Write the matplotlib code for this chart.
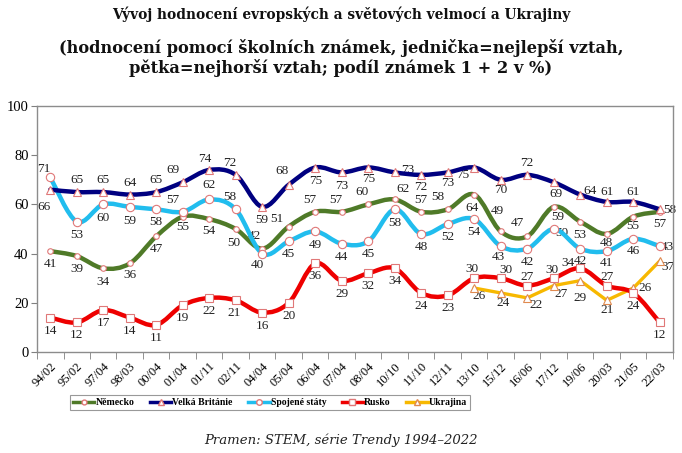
import numpy as np
import matplotlib
matplotlib.use("Agg")
import matplotlib.pyplot as plt
from matplotlib.path import Path
from matplotlib.patches import PathPatch
from matplotlib.lines import Line2D

# ---------------- data ----------------
periods = ["94/02", "95/02", "97/04", "98/03", "00/04", "01/04", "01/11", "02/11",
           "04/04", "05/04", "06/04", "07/04", "08/04", "10/10", "11/10", "12/11",
           "13/10", "15/12", "16/06", "17/12", "19/06", "20/03", "21/05", "22/03"]

nemecko = [41, 39, 34, 36, 47, 55, 54, 50, 42, 51, 57, 57, 60, 62, 57, 58,
           64, 49, 47, 59, 53, 48, 55, 57]
velka_britanie = [66, 65, 65, 64, 65, 69, 74, 72, 59, 68, 75, 73, 75, 73, 72, 73,
                  75, 70, 72, 69, 64, 61, 61, 58]
spojene_staty = [71, 53, 60, 59, 58, 57, 62, 58, 40, 45, 49, 44, 45, 58, 48, 52,
                 54, 43, 42, 50, 42, 41, 46, 43]
rusko = [14, 12, 17, 14, 11, 19, 22, 21, 16, 20, 36, 29, 32, 34, 24, 23,
         30, 30, 27, 30, 34, 27, 24, 12]
ukrajina_start = 16
ukrajina = [26, 24, 22, 27, 29, 21, 26, 37]

series_names = ["Německo", "Velká Británie", "Spojené státy", "Rusko", "Ukrajina"]

title1 = "Vývoj hodnocení evropských a světových velmocí a Ukrajiny"
title2 = "(hodnocení pomocí školních známek, jednička=nejlepší vztah,\npětka=nejhorší vztah; podíl známek 1 + 2 v %)"
source = "Pramen: STEM, série Trendy 1994–2022"

# ---------------- label placement (pixel offsets: dx, dy downwards) ----------------
off_vb = [(-6, 17), (0, -12), (0, -12), (0, -12), (0, -12), (-10, -12), (-4, -11), (-6, -12),
          (0, 13), (-7, -14), (0, 13), (0, 14), (0, 12), (13, -2), (0, 12), (0, 11),
          (-12, 8), (0, 10), (0, -12), (2, 12), (10, -4), (0, -10), (0, -10), (10, 1)]
off_de = [(0, 13), (0, 13), (0, 14), (0, 12), (0, 13), (0, 10), (0, 12), (-2, 14),
          (-8, -13), (-12, -8), (-5, -12), (-6, -12), (-6, -12), (8, -10), (0, -12), (-10, -12),
          (-2, 13), (-3, -20), (-10, -13), (4, 10), (0, 13), (0, 9), (0, 9), (0, 12)]
off_us = [(-6, -8), (0, 13), (0, 14), (0, 14), (0, 13), (-10, -12), (0, -14), (-6, -12),
          (-5, 11), (0, 13), (0, 14), (0, 13), (0, 13), (0, 14), (0, 13), (0, 13),
          (0, 13), (-2, 11), (0, 13), (8, 4), (0, 12), (0, 12), (0, 12), (8, 1)]
off_ru = [(0, 13)] * 7 + [(-2, 13)] + [(0, 13)] * 8 + \
         [(-2, -9), (5, -8), (0, -9), (-2, -8), (-12, -5), (0, -9), (0, 13), (0, 13)]
off_ua = [(5, 8), (2, 10), (9, 7), (7, 8), (0, 17), (0, 10), (12, 0), (8, 6)]

# ---------------- style ----------------
c_de = "#4f7a28"
c_vb = "#000080"
c_us = "#21bdee"
c_ru = "#ee0000"
c_ua = "#f7b800"
mk_edge = "#e07878"

serif = ["Liberation Serif", "DejaVu Serif"]
plt.rcParams["font.family"] = serif

fig = plt.figure(figsize=(6.82, 4.53), dpi=100)
ax = fig.add_axes([37 / 682, 1 - 352 / 453, (673 - 37) / 682, (352 - 106) / 453])

x = np.arange(len(periods))


def smooth_patch(xs, ys, color, lw, z):
    pts = np.column_stack([xs, ys]).astype(float)
    n = len(pts)
    verts = [tuple(pts[0])]
    codes = [Path.MOVETO]
    for i in range(n - 1):
        p0 = pts[max(i - 1, 0)]
        p1 = pts[i]
        p2 = pts[i + 1]
        p3 = pts[min(i + 2, n - 1)]
        c1 = p1 + (p2 - p0) / 6.0
        c2 = p2 - (p3 - p1) / 6.0
        verts += [tuple(c1), tuple(c2), tuple(p2)]
        codes += [Path.CURVE4] * 3
    patch = PathPatch(Path(verts, codes), facecolor="none", edgecolor=color,
                      lw=lw, zorder=z, capstyle="round", joinstyle="round")
    ax.add_patch(patch)


def labels(xs, ys, offs, z):
    for xi, yi, (dx, dy) in zip(xs, ys, offs):
        ax.annotate(str(yi), (xi, yi), xytext=(dx, -dy), textcoords="offset pixels",
                    ha="center", va="center", fontsize=9.5, color="#222222", zorder=z)


# Německo
smooth_patch(x, nemecko, c_de, 3.2, 3)
ax.plot(x, nemecko, ls="none", marker="o", ms=4, mfc="white", mec=mk_edge, mew=0.8, zorder=4)
labels(x, nemecko, off_de, 2)

# Spojené státy
smooth_patch(x, spojene_staty, c_us, 3.2, 3)
ax.plot(x, spojene_staty, ls="none", marker="o", ms=6, mfc="white", mec=mk_edge, mew=0.8, zorder=4)
labels(x, spojene_staty, off_us, 2)

# Velká Británie
smooth_patch(x, velka_britanie, c_vb, 3.2, 3)
ax.plot(x, velka_britanie, ls="none", marker="^", ms=5.5, mfc="white", mec=mk_edge, mew=0.8, zorder=4)
labels(x, velka_britanie, off_vb, 2)

# Ukrajina (straight segments)
xu = x[ukrajina_start:ukrajina_start + len(ukrajina)]
ax.plot(xu, ukrajina, color=c_ua, lw=2.4, zorder=3, solid_joinstyle="round")
ax.plot(xu, ukrajina, ls="none", marker="^", ms=5.5, mfc="white", mec="#e08a50", mew=0.8, zorder=4)
labels(xu, ukrajina, off_ua, 2)

# Rusko
smooth_patch(x, rusko, c_ru, 3.2, 3.5)
ax.plot(x, rusko, ls="none", marker="s", ms=5.5, mfc="white", mec=mk_edge, mew=0.8, zorder=4.5)
labels(x, rusko, off_ru, 2)

# ---------------- axes ----------------
ax.set_xlim(-0.5, len(periods) - 0.5)
ax.set_ylim(0, 100)
ax.set_yticks(range(0, 101, 20))
ax.tick_params(axis="y", labelsize=10.5, length=4, color="#808080", pad=2)
ax.set_xticks(x)
ax.set_xticklabels(periods, rotation=45, ha="right", rotation_mode="anchor", fontsize=9)
ax.tick_params(axis="x", which="major", length=0, pad=6)
ax.set_xticks(np.arange(-0.5, len(periods), 1.0), minor=True)
ax.tick_params(axis="x", which="minor", length=5, color="#808080")
for s in ax.spines.values():
    s.set_color("#8c8c8c")
    s.set_linewidth(1.0)

# ---------------- legend ----------------
handles = [
    Line2D([], [], color=c_de, lw=2.5, marker="o", ms=3.5, mfc="white", mec=mk_edge),
    Line2D([], [], color=c_vb, lw=2.5, marker="^", ms=4, mfc="white", mec=mk_edge),
    Line2D([], [], color=c_us, lw=2.5, marker="o", ms=4, mfc="white", mec=mk_edge),
    Line2D([], [], color=c_ru, lw=2.5, marker="s", ms=4, mfc="white", mec=mk_edge),
    Line2D([], [], color=c_ua, lw=2.5, marker="^", ms=4, mfc="white", mec="#e08a50"),
]
leg = fig.legend(handles, series_names, loc="center", bbox_to_anchor=(270 / 682, 1 - 402.5 / 453),
                 ncol=5, frameon=True, fancybox=False, handlelength=2.2,
                 handletextpad=0.1, columnspacing=1.6, borderpad=0.35,
                 prop={"family": serif, "weight": "bold", "size": 7})
leg.get_frame().set_edgecolor("#808080")
leg.get_frame().set_linewidth(0.8)

# ---------------- titles ----------------
tfam = ["DejaVu Serif"]
fig.text(0.5, 1 - 14 / 453, title1, ha="center", va="center", fontsize=9.9,
         fontweight="bold", family=tfam, color="#111111")
fig.text(0.5, 1 - 58 / 453, title2, ha="center", va="center", fontsize=11.7,
         fontweight="bold", family=tfam, color="#111111", linespacing=1.1)
fig.text(0.5, 1 - 440 / 453, source, ha="center", va="center", fontsize=9.5,
         style="italic", family=tfam, color="#222222")

fig.savefig("out.png", dpi=100)
